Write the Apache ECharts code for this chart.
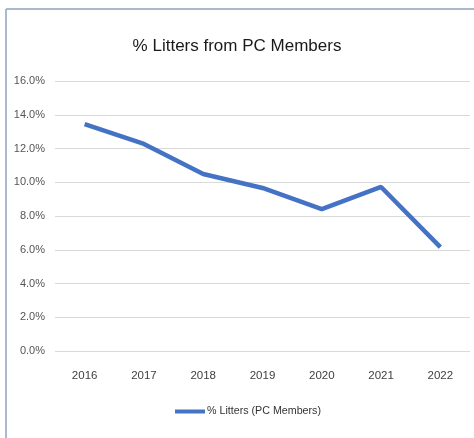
<!DOCTYPE html>
<html><head><meta charset="utf-8">
<script src="https://cdn.jsdelivr.net/npm/echarts@6/dist/echarts.min.js"></script>
<style>html,body{margin:0;padding:0;background:#fff}#c{width:474px;height:438px}</style>
</head><body><div id="c"></div>
<script>
var years = ['2016','2017','2018','2019','2020','2021','2022'];
var pctLitters = [13.45, 12.27, 10.49, 9.66, 8.41, 9.72, 6.16];
var seriesName = '% Litters (PC Members)';
var titleText = '% Litters from PC Members';
var FONT = '"Liberation Sans", sans-serif';
var chart = echarts.init(document.getElementById('c'));
chart.setOption({
  animation: false,
  backgroundColor: '#fff',
  graphic: [
    {type:'line', shape:{x1:6,y1:9,x2:474,y2:9}, style:{stroke:'#8fa3b8', lineWidth:1.5}},
    {type:'line', shape:{x1:6,y1:9,x2:6,y2:438}, style:{stroke:'#8fa3b8', lineWidth:1.5}}
  ],
  title: {text: titleText, left: 'center', top: 33,
    textStyle:{fontFamily: FONT, fontSize: 17, fontWeight:'normal', color:'#1a1a1a'}},
  legend: {data:[{name: seriesName, icon:'rect'}], top: 401, left: 170,
    itemWidth: 30, itemHeight: 4, itemGap: 2,
    textStyle:{fontFamily: FONT, fontSize: 10.7, color:'#333', padding:[0,0,0,-3]}},
  grid: {left: 55, right: 4, top: 81, bottom: 87},
  xAxis: {type:'category', data: years, boundaryGap: true,
    axisLine:{show:false}, axisTick:{show:false},
    axisLabel:{fontFamily: FONT, fontSize: 11.5, color:'#404040', margin: 19}},
  yAxis: {type:'value', min:0, max:16, interval:2,
    axisLine:{show:false}, axisTick:{show:false},
    splitLine:{lineStyle:{color:'#d9d9d9'}},
    axisLabel:{fontFamily: FONT, fontSize: 11, color:'#555', margin: 10,
      formatter: function(v){return v.toFixed(1)+'%';}}},
  series: [{name: seriesName, type:'line', data: pctLitters, showSymbol:false, symbol:'none',
    lineStyle:{color:'#4472C4', width:4.5}, itemStyle:{color:'#4472C4'}}]
});
</script></body></html>
